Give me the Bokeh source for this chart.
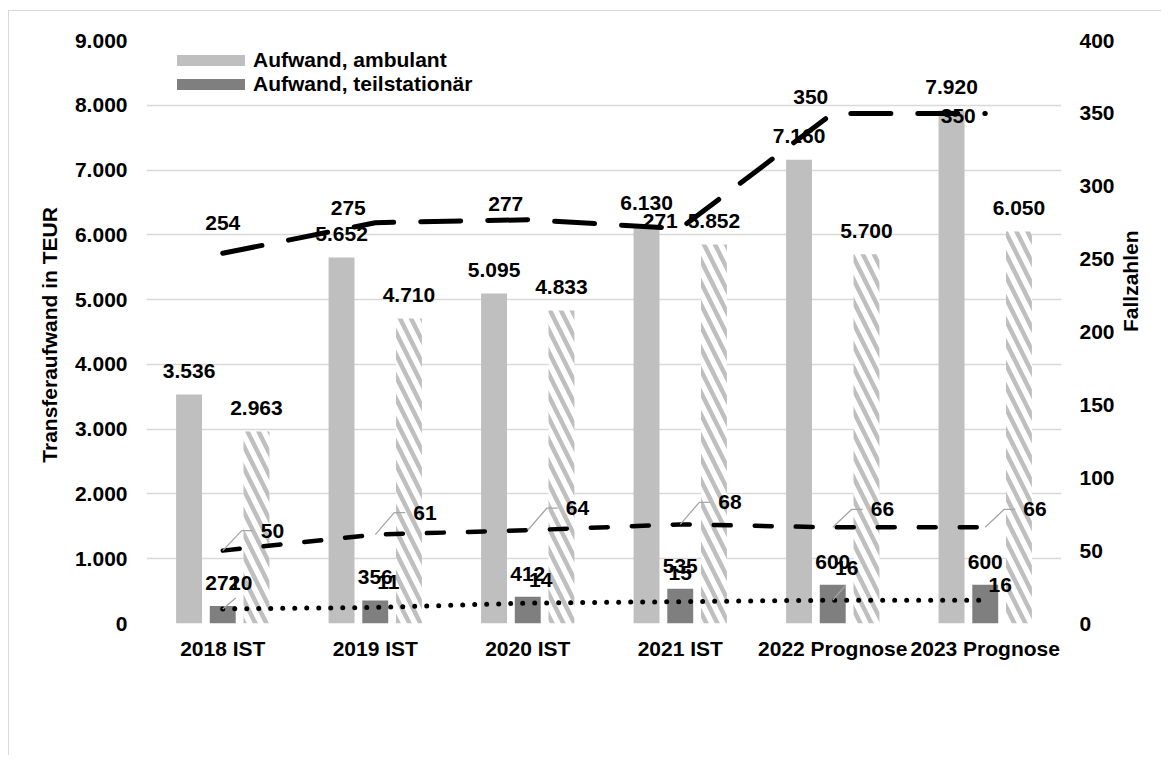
import math
from bokeh.plotting import figure
from bokeh.models import (Range1d, LinearAxis, FixedTicker, ColumnDataSource,
                          Legend, LegendItem)
from bokeh.core.properties import value
from bokeh.embed import file_html
from bokeh.resources import INLINE

# ---------------- data ----------------
categories = ["2018 IST", "2019 IST", "2020 IST", "2021 IST",
              "2022 Prognose", "2023 Prognose"]
aufwand_ambulant = [3536, 5652, 5095, 6130, 7160, 7920]
aufwand_teilstationaer = [272, 356, 412, 535, 600, 600]
aufwand_schraffiert = [2963, 4710, 4833, 5852, 5700, 6050]
fallzahlen_oben = [254, 275, 277, 271, 350, 350]
fallzahlen_mitte = [50, 61, 64, 68, 66, 66]
fallzahlen_unten = [10, 11, 14, 15, 16, 16]
left_ticks = [0, 1000, 2000, 3000, 4000, 5000, 6000, 7000, 8000, 9000]
right_ticks = [0, 50, 100, 150, 200, 250, 300, 350, 400]

# ---------------- layout / style ----------------
FONT = "Liberation Sans"
FS = "21px"
FRAME_W, FRAME_H = 915, 583
N = len(categories)
PX_X = N / FRAME_W            # data units per pixel on x
PX_Y2 = 400 / FRAME_H         # data units per pixel on secondary y


def fmt(v):
    return f"{v:,}".replace(",", ".")


xc = [i + 0.5 for i in range(N)]
BAR_W = 0.17
OFF = 0.221

p = figure(width=1153, height=745, output_backend="svg", toolbar_location=None,
           x_range=Range1d(0, N), y_range=Range1d(0, 9000),
           min_border_left=137, min_border_right=101,
           min_border_top=29, min_border_bottom=133,
           outline_line_color=None, background_fill_color="white",
           border_fill_color="white")
p.styles = {"border-left": "1px solid #d9d9d9", "border-top": "1px solid #d9d9d9",
            "margin-left": "8px", "margin-top": "10px"}
p.extra_y_ranges = {"fall": Range1d(0, 400)}

# grid
p.xgrid.visible = False
p.ygrid.ticker = FixedTicker(ticks=left_ticks)
p.ygrid.grid_line_color = "#d9d9d9"
p.ygrid.grid_line_width = 1.5

# axes
def style_axis(ax):
    ax.axis_line_color = None
    ax.major_tick_line_color = None
    ax.minor_tick_line_color = None
    ax.major_tick_in = 0
    ax.major_tick_out = 0
    ax.major_label_text_font = FONT
    ax.major_label_text_font_style = "bold"
    ax.major_label_text_font_size = FS
    ax.major_label_text_color = "black"
    ax.axis_label_text_font = FONT
    ax.axis_label_text_font_style = "bold"
    ax.axis_label_text_font_size = FS
    ax.axis_label_text_color = "black"

yl = p.yaxis[0]
style_axis(yl)
yl.ticker = FixedTicker(ticks=left_ticks)
yl.major_label_overrides = {t: fmt(t) for t in left_ticks}
yl.major_label_standoff = 19
yl.axis_label = "Transferaufwand  in TEUR"
yl.axis_label_standoff = 11

yr = LinearAxis(y_range_name="fall", ticker=FixedTicker(ticks=right_ticks),
                axis_label="Fallzahlen")
style_axis(yr)
yr.major_label_standoff = 18
yr.axis_label_standoff = 13
if "axis_label_orientation" in yr.properties():
    yr.axis_label_orientation = math.pi / 2
p.add_layout(yr, "right")

xa = p.xaxis[0]
style_axis(xa)
xa.ticker = FixedTicker(ticks=xc)
xa.major_label_overrides = {x: c for x, c in zip(xc, categories)}
xa.major_label_standoff = 13

# bars
src = ColumnDataSource(dict(
    x=xc,
    xa=[x - OFF for x in xc], xb=xc, xh=[x + OFF for x in xc],
    amb=aufwand_ambulant, teil=aufwand_teilstationaer, sch=aufwand_schraffiert,
    amb_t=[fmt(v) for v in aufwand_ambulant],
    teil_t=[fmt(v) for v in aufwand_teilstationaer],
    sch_t=[fmt(v) for v in aufwand_schraffiert],
))

r_amb = p.vbar(x="xa", top="amb", width=BAR_W, source=src,
               fill_color="#bfbfbf", line_color=None)
r_teil = p.vbar(x="xb", top="teil", width=BAR_W, source=src,
                fill_color="#7f7f7f", line_color=None)
r_sch = p.vbar(x="xh", top="sch", width=BAR_W, source=src,
               fill_color="white", line_color=None,
               hatch_pattern="\\", hatch_color="#bfbfbf",
               hatch_weight=4.5, hatch_scale=22)

# lines (secondary axis)
p.line(xc, fallzahlen_oben, y_range_name="fall", line_color="black",
       line_width=5, line_dash="40 27", line_cap="round")
p.line(xc, fallzahlen_mitte, y_range_name="fall", line_color="black",
       line_width=4.5, line_dash="17 24", line_cap="round")
p.line(xc, fallzahlen_unten, y_range_name="fall", line_color="black",
       line_width=5, line_dash="0 12", line_cap="round")

# leader lines for the middle series labels
LEAD_DX1, LEAD_DX2 = 19, 30
mid_dy = [-20, -22, -22, -22, -18, -18]
lead_xs, lead_ys = [], []
for x, v, dy in zip(xc, fallzahlen_mitte, mid_dy):
    lead_xs.append([x, x + LEAD_DX1 * PX_X, x + LEAD_DX2 * PX_X])
    y1 = v - dy * PX_Y2
    lead_ys.append([v, y1, y1])
# leader lines for some lower-series labels
low_lead = {0: (13, -11), 4: (13, -15)}
for i, (dx, dy) in low_lead.items():
    lead_xs.append([xc[i], xc[i] + dx * PX_X])
    lead_ys.append([fallzahlen_unten[i], fallzahlen_unten[i] - dy * PX_Y2])
p.multi_line(lead_xs, lead_ys, y_range_name="fall", line_color="#a6a6a6",
             line_width=1.3)

# ---------------- data labels ----------------
txt = dict(text_font=value(FONT), text_font_style="bold",
           text_font_size=FS, text_color="black", text_baseline="middle")

p.text(x="xa", y="amb", text="amb_t", source=src, text_align="center",
       y_offset=-23.5, **txt)
p.text(x="xh", y="sch", text="sch_t", source=src, text_align="center",
       y_offset=-23.5, **txt)
p.text(x="xb", y="teil", text="teil_t", source=src, text_align="center",
       y_offset=-23, **txt)

top_dx = [0, -27, -22, -20, -22, -27]
top_dy = [-30, -15, -16, -8, -16, 3]
p.text(x=xc, y=fallzahlen_oben, text=[str(v) for v in fallzahlen_oben],
       x_offset=top_dx, y_offset=top_dy, y_range_name="fall",
       text_align="center", **txt)

p.text(x=xc, y=fallzahlen_mitte, text=[str(v) for v in fallzahlen_mitte],
       x_offset=[38] * N, y_offset=mid_dy, y_range_name="fall",
       text_align="left", **txt)

low_dx = [18, 13, 13, 0, 14, 15]
low_dy = [-26, -25, -23, -29, -32, -15]
p.text(x=xc, y=fallzahlen_unten, text=[str(v) for v in fallzahlen_unten],
       x_offset=low_dx, y_offset=low_dy, y_range_name="fall",
       text_align="center", **txt)

# legend
legend = Legend(items=[LegendItem(label="Aufwand, ambulant", renderers=[r_amb]),
                       LegendItem(label="Aufwand, teilstationär", renderers=[r_teil])],
                location=(22, 527), orientation="vertical",
                glyph_width=85, glyph_height=14, label_standoff=0,
                label_height=24, spacing=0, padding=0, margin=0,
                border_line_color=None, background_fill_alpha=0,
                label_text_font=FONT, label_text_font_style="bold",
                label_text_font_size=FS, label_text_color="black")
p.add_layout(legend)

open("out.html", "w").write(file_html(p, INLINE))
